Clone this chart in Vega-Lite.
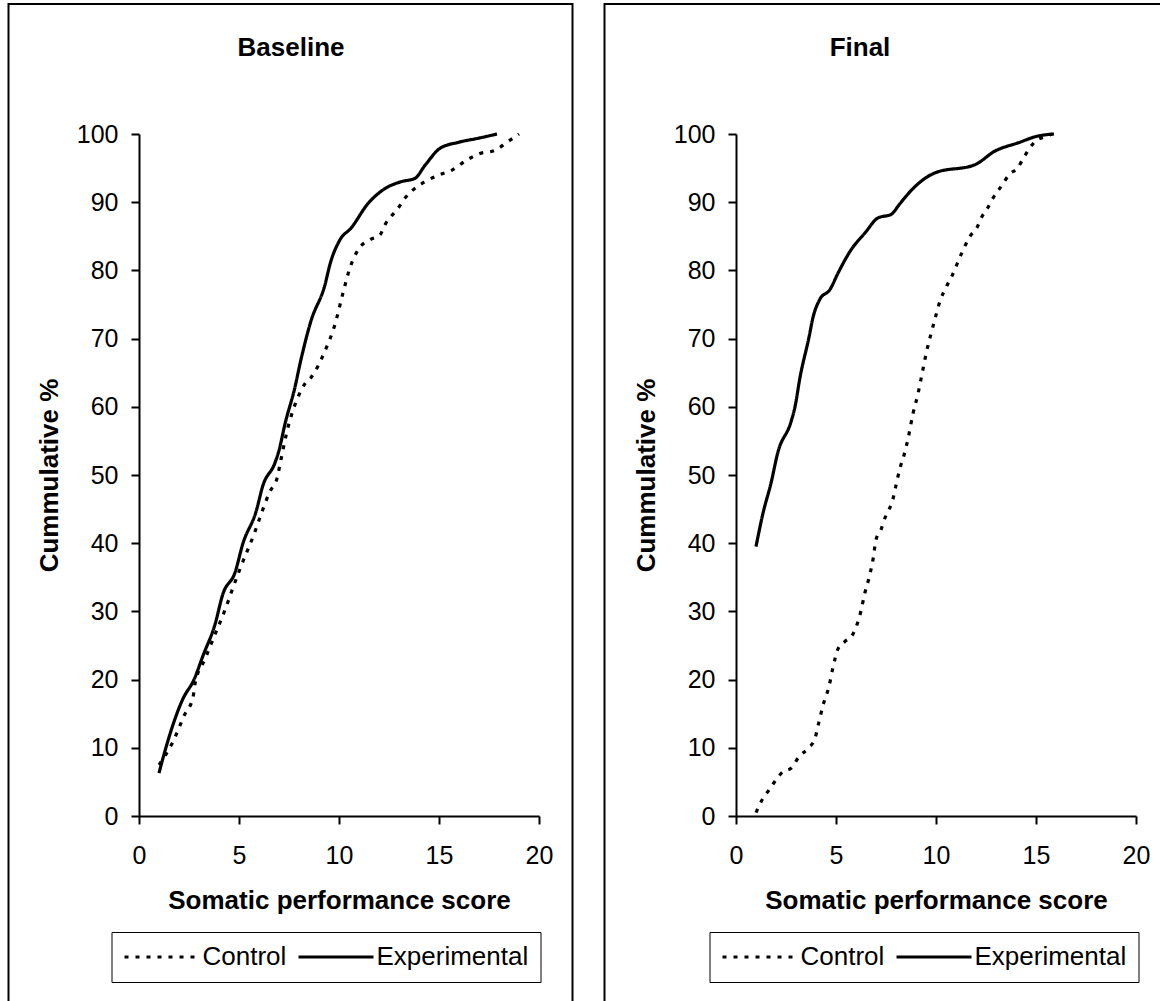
{
  "$schema": "https://vega.github.io/schema/vega-lite/v6.json",
  "padding": {"left": 7, "top": 3, "right": 0, "bottom": 0},
  "background": "white",
  "datasets": {
    "baseline": [
      {"group": "Experimental", "score": 1.0, "pct": 6.3},
      {"group": "Experimental", "score": 1.2, "pct": 8.5},
      {"group": "Experimental", "score": 2.2, "pct": 17.2},
      {"group": "Experimental", "score": 2.75, "pct": 20.0},
      {"group": "Experimental", "score": 3.2, "pct": 23.5},
      {"group": "Experimental", "score": 3.8, "pct": 28.1},
      {"group": "Experimental", "score": 4.2, "pct": 32.6},
      {"group": "Experimental", "score": 4.8, "pct": 35.7},
      {"group": "Experimental", "score": 5.2, "pct": 40.0},
      {"group": "Experimental", "score": 5.85, "pct": 44.6},
      {"group": "Experimental", "score": 6.2, "pct": 48.5},
      {"group": "Experimental", "score": 6.8, "pct": 51.8},
      {"group": "Experimental", "score": 7.0, "pct": 53.6},
      {"group": "Experimental", "score": 7.3, "pct": 57.5},
      {"group": "Experimental", "score": 7.8, "pct": 62.9},
      {"group": "Experimental", "score": 8.05, "pct": 66.3},
      {"group": "Experimental", "score": 8.6, "pct": 72.6},
      {"group": "Experimental", "score": 9.3, "pct": 77.9},
      {"group": "Experimental", "score": 9.55, "pct": 80.9},
      {"group": "Experimental", "score": 10.05, "pct": 84.5},
      {"group": "Experimental", "score": 10.6, "pct": 86.2},
      {"group": "Experimental", "score": 11.45, "pct": 89.8},
      {"group": "Experimental", "score": 12.3, "pct": 92.0},
      {"group": "Experimental", "score": 13.1, "pct": 93.0},
      {"group": "Experimental", "score": 13.8, "pct": 93.5},
      {"group": "Experimental", "score": 14.3, "pct": 95.4},
      {"group": "Experimental", "score": 15.05, "pct": 97.9},
      {"group": "Experimental", "score": 16.0, "pct": 98.8},
      {"group": "Experimental", "score": 17.0, "pct": 99.4},
      {"group": "Experimental", "score": 17.9, "pct": 100.0},
      {"group": "Control", "score": 1.0, "pct": 7.5},
      {"group": "Control", "score": 1.7, "pct": 10.9},
      {"group": "Control", "score": 2.27, "pct": 14.8},
      {"group": "Control", "score": 2.7, "pct": 17.4},
      {"group": "Control", "score": 2.8, "pct": 19.4},
      {"group": "Control", "score": 3.3, "pct": 23.0},
      {"group": "Control", "score": 3.7, "pct": 25.9},
      {"group": "Control", "score": 4.35, "pct": 30.6},
      {"group": "Control", "score": 4.7, "pct": 33.5},
      {"group": "Control", "score": 5.1, "pct": 36.6},
      {"group": "Control", "score": 5.8, "pct": 41.7},
      {"group": "Control", "score": 6.1, "pct": 44.2},
      {"group": "Control", "score": 6.55, "pct": 47.6},
      {"group": "Control", "score": 6.9, "pct": 49.5},
      {"group": "Control", "score": 7.1, "pct": 52.3},
      {"group": "Control", "score": 7.45, "pct": 57.0},
      {"group": "Control", "score": 7.95, "pct": 61.4},
      {"group": "Control", "score": 8.3, "pct": 63.4},
      {"group": "Control", "score": 8.6, "pct": 64.3},
      {"group": "Control", "score": 9.3, "pct": 68.2},
      {"group": "Control", "score": 9.8, "pct": 72.1},
      {"group": "Control", "score": 10.2, "pct": 76.7},
      {"group": "Control", "score": 10.55, "pct": 80.4},
      {"group": "Control", "score": 10.95, "pct": 83.0},
      {"group": "Control", "score": 11.55, "pct": 84.5},
      {"group": "Control", "score": 12.05, "pct": 85.2},
      {"group": "Control", "score": 12.3, "pct": 86.7},
      {"group": "Control", "score": 12.95, "pct": 89.1},
      {"group": "Control", "score": 13.3, "pct": 90.6},
      {"group": "Control", "score": 13.7, "pct": 91.8},
      {"group": "Control", "score": 14.3, "pct": 93.0},
      {"group": "Control", "score": 15.0, "pct": 94.0},
      {"group": "Control", "score": 15.65, "pct": 94.7},
      {"group": "Control", "score": 16.4, "pct": 96.2},
      {"group": "Control", "score": 17.0, "pct": 97.1},
      {"group": "Control", "score": 17.8, "pct": 97.6},
      {"group": "Control", "score": 18.4, "pct": 98.8},
      {"group": "Control", "score": 19.0, "pct": 100.0}
    ],
    "final": [
      {"group": "Experimental", "score": 1.0, "pct": 39.5},
      {"group": "Experimental", "score": 1.35, "pct": 44.4},
      {"group": "Experimental", "score": 1.75, "pct": 48.8},
      {"group": "Experimental", "score": 2.1, "pct": 53.4},
      {"group": "Experimental", "score": 2.75, "pct": 57.8},
      {"group": "Experimental", "score": 2.95, "pct": 60.0},
      {"group": "Experimental", "score": 3.2, "pct": 64.3},
      {"group": "Experimental", "score": 3.65, "pct": 70.2},
      {"group": "Experimental", "score": 3.85, "pct": 73.1},
      {"group": "Experimental", "score": 4.2, "pct": 75.8},
      {"group": "Experimental", "score": 4.7, "pct": 77.2},
      {"group": "Experimental", "score": 5.1, "pct": 79.6},
      {"group": "Experimental", "score": 5.75, "pct": 83.0},
      {"group": "Experimental", "score": 6.45, "pct": 85.5},
      {"group": "Experimental", "score": 7.1, "pct": 87.7},
      {"group": "Experimental", "score": 7.75, "pct": 88.2},
      {"group": "Experimental", "score": 8.2, "pct": 89.8},
      {"group": "Experimental", "score": 8.85, "pct": 92.0},
      {"group": "Experimental", "score": 9.45, "pct": 93.5},
      {"group": "Experimental", "score": 9.95, "pct": 94.3},
      {"group": "Experimental", "score": 11.95, "pct": 95.5},
      {"group": "Experimental", "score": 12.95, "pct": 97.5},
      {"group": "Experimental", "score": 14.1, "pct": 98.7},
      {"group": "Experimental", "score": 15.1, "pct": 99.7},
      {"group": "Experimental", "score": 15.9, "pct": 100.0},
      {"group": "Control", "score": 1.0, "pct": 0.5},
      {"group": "Control", "score": 1.35, "pct": 2.6},
      {"group": "Control", "score": 1.65, "pct": 3.8},
      {"group": "Control", "score": 2.0, "pct": 5.3},
      {"group": "Control", "score": 2.35, "pct": 6.5},
      {"group": "Control", "score": 2.75, "pct": 7.0},
      {"group": "Control", "score": 3.15, "pct": 8.7},
      {"group": "Control", "score": 3.6, "pct": 9.9},
      {"group": "Control", "score": 3.95, "pct": 11.4},
      {"group": "Control", "score": 4.15, "pct": 13.8},
      {"group": "Control", "score": 4.35, "pct": 16.2},
      {"group": "Control", "score": 4.65, "pct": 19.0},
      {"group": "Control", "score": 4.85, "pct": 21.8},
      {"group": "Control", "score": 5.1, "pct": 24.5},
      {"group": "Control", "score": 5.45, "pct": 25.6},
      {"group": "Control", "score": 5.85, "pct": 26.7},
      {"group": "Control", "score": 6.25, "pct": 30.1},
      {"group": "Control", "score": 6.45, "pct": 32.8},
      {"group": "Control", "score": 6.65, "pct": 34.9},
      {"group": "Control", "score": 6.85, "pct": 37.6},
      {"group": "Control", "score": 7.0, "pct": 40.5},
      {"group": "Control", "score": 7.25, "pct": 42.0},
      {"group": "Control", "score": 7.45, "pct": 43.7},
      {"group": "Control", "score": 7.65, "pct": 44.9},
      {"group": "Control", "score": 7.85, "pct": 46.5},
      {"group": "Control", "score": 8.0, "pct": 48.5},
      {"group": "Control", "score": 8.2, "pct": 51.0},
      {"group": "Control", "score": 8.4, "pct": 52.9},
      {"group": "Control", "score": 8.6, "pct": 55.3},
      {"group": "Control", "score": 8.85, "pct": 59.0},
      {"group": "Control", "score": 9.1, "pct": 61.9},
      {"group": "Control", "score": 9.3, "pct": 64.8},
      {"group": "Control", "score": 9.5, "pct": 67.7},
      {"group": "Control", "score": 9.75, "pct": 70.7},
      {"group": "Control", "score": 9.95, "pct": 72.9},
      {"group": "Control", "score": 10.2, "pct": 75.5},
      {"group": "Control", "score": 10.5, "pct": 77.5},
      {"group": "Control", "score": 10.8, "pct": 79.2},
      {"group": "Control", "score": 11.25, "pct": 82.3},
      {"group": "Control", "score": 11.7, "pct": 85.0},
      {"group": "Control", "score": 12.05, "pct": 86.3},
      {"group": "Control", "score": 12.3, "pct": 87.9},
      {"group": "Control", "score": 12.55, "pct": 89.0},
      {"group": "Control", "score": 12.85, "pct": 90.6},
      {"group": "Control", "score": 13.3, "pct": 92.5},
      {"group": "Control", "score": 13.7, "pct": 94.2},
      {"group": "Control", "score": 14.05, "pct": 94.9},
      {"group": "Control", "score": 14.4, "pct": 96.6},
      {"group": "Control", "score": 14.65, "pct": 97.8},
      {"group": "Control", "score": 15.0, "pct": 99.0},
      {"group": "Control", "score": 15.45, "pct": 99.6},
      {"group": "Control", "score": 15.8, "pct": 100.0}
    ]
  },
  "spacing": 29,
  "hconcat": [
    {
      "width": 400,
      "height": 682,
      "layer": [
        {
          "data": {"values": [{}]},
          "mark": {"type": "rect", "filled": false, "stroke": "black", "strokeWidth": 2, "clip": false},
          "encoding": {
            "x": {"datum": -6.525, "type": "quantitative", "scale": {"domain": [0, 20], "nice": false, "zero": false}, "title": "Somatic performance score"},
            "x2": {"datum": 21.675},
            "y": {"datum": 119.06, "type": "quantitative", "scale": {"domain": [0, 100], "nice": false, "zero": false}, "title": "Cummulative %"},
            "y2": {"datum": -28.5}
          }
        },
        {
          "data": {"values": [{}]},
          "mark": {"type": "text", "text": "Baseline", "font": "Liberation Sans", "fontSize": 26, "fontWeight": "bold", "align": "center", "baseline": "middle", "clip": false, "color": "black"},
          "encoding": {
            "x": {"datum": 7.6, "type": "quantitative", "scale": {"domain": [0, 20], "nice": false, "zero": false}, "title": "Somatic performance score"},
            "y": {"datum": 112.6, "type": "quantitative", "scale": {"domain": [0, 100], "nice": false, "zero": false}, "title": "Cummulative %"}
          }
        },
        {
          "data": {"name": "baseline"},
          "mark": {"type": "line", "interpolate": "monotone", "color": "black", "strokeWidth": 3.2},
          "encoding": {
            "x": {"field": "score", "type": "quantitative", "scale": {"domain": [0, 20], "nice": false, "zero": false}, "title": "Somatic performance score", "axis": {"values": [0, 5, 10, 15, 20], "labelPadding": 19, "titlePadding": 19}},
            "y": {"field": "pct", "type": "quantitative", "scale": {"domain": [0, 100], "nice": false, "zero": false}, "title": "Cummulative %", "axis": {"values": [0, 10, 20, 30, 40, 50, 60, 70, 80, 90, 100], "labelPadding": 13, "titlePadding": 14}},
            "strokeDash": {
              "field": "group", "type": "nominal",
              "scale": {"domain": ["Control", "Experimental"], "range": [[4, 7], [1, 0]]},
              "legend": {"orient": "none", "legendX": -27.5, "legendY": 798, "direction": "horizontal", "columns": 2, "title": null}
            }
          }
        }
      ]
    },
    {
      "width": 400,
      "height": 682,
      "layer": [
        {
          "data": {"values": [{}]},
          "mark": {"type": "rect", "filled": false, "stroke": "black", "strokeWidth": 2, "clip": false},
          "encoding": {
            "x": {"datum": -6.575, "type": "quantitative", "scale": {"domain": [0, 20], "nice": false, "zero": false}, "title": "Somatic performance score"},
            "x2": {"datum": 21.8},
            "y": {"datum": 119.06, "type": "quantitative", "scale": {"domain": [0, 100], "nice": false, "zero": false}, "title": "Cummulative %"},
            "y2": {"datum": -28.5}
          }
        },
        {
          "data": {"values": [{}]},
          "mark": {"type": "text", "text": "Final", "font": "Liberation Sans", "fontSize": 26, "fontWeight": "bold", "align": "center", "baseline": "middle", "clip": false, "color": "black"},
          "encoding": {
            "x": {"datum": 6.2, "type": "quantitative", "scale": {"domain": [0, 20], "nice": false, "zero": false}, "title": "Somatic performance score"},
            "y": {"datum": 112.6, "type": "quantitative", "scale": {"domain": [0, 100], "nice": false, "zero": false}, "title": "Cummulative %"}
          }
        },
        {
          "data": {"name": "final"},
          "mark": {"type": "line", "interpolate": "monotone", "color": "black", "strokeWidth": 3.2},
          "encoding": {
            "x": {"field": "score", "type": "quantitative", "scale": {"domain": [0, 20], "nice": false, "zero": false}, "title": "Somatic performance score", "axis": {"values": [0, 5, 10, 15, 20], "labelPadding": 19, "titlePadding": 19}},
            "y": {"field": "pct", "type": "quantitative", "scale": {"domain": [0, 100], "nice": false, "zero": false}, "title": "Cummulative %", "axis": {"values": [0, 10, 20, 30, 40, 50, 60, 70, 80, 90, 100], "labelPadding": 13, "titlePadding": 14}},
            "strokeDash": {
              "field": "group", "type": "nominal",
              "scale": {"domain": ["Control", "Experimental"], "range": [[4, 7], [1, 0]]},
              "legend": {"orient": "none", "legendX": -26.5, "legendY": 798, "direction": "horizontal", "columns": 2, "title": null}
            }
          }
        }
      ]
    }
  ],
  "resolve": {
    "scale": {"x": "independent", "y": "independent", "strokeDash": "independent"},
    "axis": {"x": "independent", "y": "independent"},
    "legend": {"strokeDash": "independent"}
  },
  "config": {
    "font": "Liberation Sans",
    "view": {"stroke": null},
    "axis": {
      "grid": false,
      "domainColor": "black",
      "domainWidth": 2,
      "tickColor": "black",
      "tickWidth": 2,
      "tickSize": 8,
      "labelFont": "Liberation Sans",
      "labelFontSize": 25,
      "labelColor": "black",
      "titleFont": "Liberation Sans",
      "titleFontSize": 26,
      "titleFontWeight": "bold",
      "titleColor": "black",
      "labelFlush": false,
      "labelOverlap": false
    },
    "legend": {
      "strokeColor": "black",
      "fillColor": "white",
      "padding": 12,
      "labelFont": "Liberation Sans",
      "labelFontSize": 26,
      "labelColor": "black",
      "labelOffset": 53,
      "columnPadding": 6,
      "symbolType": "M-2.4,0H12.6",
      "symbolSize": 100,
      "symbolStrokeWidth": 3,
      "symbolStrokeColor": "black"
    }
  }
}
